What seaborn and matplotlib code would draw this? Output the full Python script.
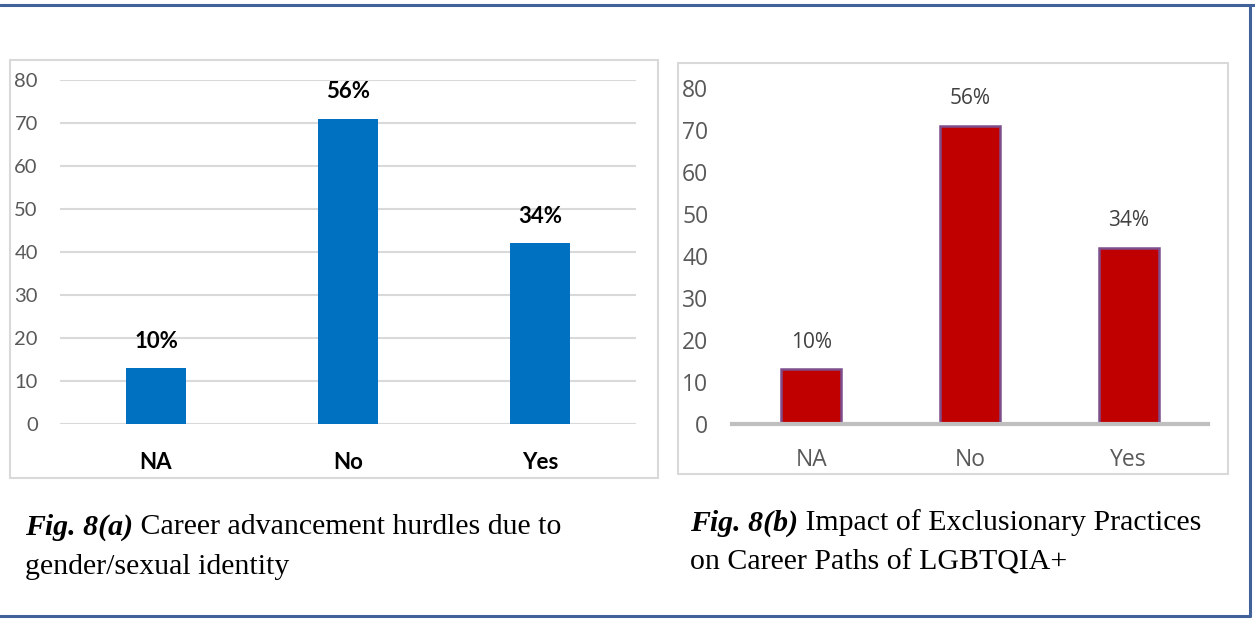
import matplotlib
matplotlib.use("Agg")
import matplotlib.pyplot as plt
from matplotlib.patches import Rectangle
from matplotlib.lines import Line2D
import seaborn as sns

# Survey responses (counts) and the share each answer represents
categories = ["NA", "No", "Yes"]
hurdles_counts = [13, 71, 42]
hurdles_pct = ["10%", "56%", "34%"]
exclusion_counts = [13, 71, 42]
exclusion_pct = ["10%", "56%", "34%"]
y_ticks = [0, 10, 20, 30, 40, 50, 60, 70, 80]

caption_a = ("Fig. 8(a)", " Career advancement hurdles due to", "gender/sexual identity")
caption_b = ("Fig. 8(b)", " Impact of Exclusionary Practices", "on Career Paths of LGBTQIA+")

W, H = 1255, 619
sns.set_theme(style="white")
plt.rcParams["font.family"] = ["Lato", "DejaVu Sans"]

fig = plt.figure(figsize=(W / 100, H / 100), dpi=100)
fig.patch.set_facecolor("white")


def px_box(x0, y0, x1, y1):
    """Figure-fraction rectangle from pixel corners (top-left origin)."""
    return [x0 / W, 1 - y1 / H, (x1 - x0) / W, (y1 - y0) / H]


# ---- outer page border ----
border_col = "#41619b"
for xs, ys in [((0, 1), (1 - 5 / H, 1 - 5 / H)),
               ((0, 1250 / W), (1 - 616 / H, 1 - 616 / H)),
               ((1250 / W, 1250 / W), (1 - 5 / H, 1 - 616 / H))]:
    fig.add_artist(Line2D(xs, ys, transform=fig.transFigure, color=border_col, lw=2.2))

# ---- chart frames ----
for (x0, y0, x1, y1) in [(10, 60, 658, 478), (678, 63, 1228, 474)]:
    fig.add_artist(Rectangle((x0 / W, 1 - y1 / H), (x1 - x0) / W, (y1 - y0) / H,
                             transform=fig.transFigure, fill=False,
                             edgecolor="#d9d9d9", lw=1.5))

# ---- Fig 8(a): blue bars with gridlines ----
ax1 = fig.add_axes(px_box(60, 80, 636, 424))
sns.barplot(x=categories, y=hurdles_counts, color="#0070c0", saturation=1,
            width=0.3125, ax=ax1, linewidth=0)
ax1.set_xlim(-0.5, 2.5)
ax1.set_ylim(0, 80)
ax1.set_yticks(y_ticks)
ax1.yaxis.grid(True, color="#d9d9d9", lw=1.5)
ax1.set_axisbelow(True)
for s in ax1.spines.values():
    s.set_visible(False)
ax1.tick_params(axis="y", length=0, pad=16, labelsize=14.5, labelcolor="#595959")
ax1.tick_params(axis="x", length=0, pad=20, labelsize=16, labelcolor="black")
for lbl in ax1.get_xticklabels():
    lbl.set_fontweight("bold")
ax1.set_xlabel("")
ax1.set_ylabel("")
for i, (v, t) in enumerate(zip(hurdles_counts, hurdles_pct)):
    ax1.annotate(t, (i, v), xytext=(0, 19.5), textcoords="offset points",
                 ha="center", va="center", fontsize=16, fontweight="bold",
                 color="black")

# ---- Fig 8(b): red bars on a grey baseline ----
ax2 = fig.add_axes(px_box(732, 88, 1208, 424))
sns.barplot(x=categories, y=exclusion_counts, color="#c00000", saturation=1,
            width=0.38, ax=ax2, edgecolor="#7d4d8c", linewidth=1.8)
ax2.set_xlim(-0.5, 2.5)
ax2.set_ylim(0, 80)
ax2.set_yticks(y_ticks)
for name, s in ax2.spines.items():
    s.set_visible(name == "bottom")
ax2.spines["bottom"].set_color("#bfbfbf")
ax2.spines["bottom"].set_linewidth(3)
ax2.tick_params(axis="y", length=0, pad=17, labelsize=16.5, labelcolor="#595959")
ax2.tick_params(axis="x", length=0, pad=17, labelsize=16.5, labelcolor="#595959")
for lbl in ax2.get_yticklabels() + ax2.get_xticklabels():
    lbl.set_fontfamily(["Open Sans", "DejaVu Sans"])
ax2.set_xlabel("")
ax2.set_ylabel("")
for i, (v, t) in enumerate(zip(exclusion_counts, exclusion_pct)):
    ax2.annotate(t, (i, v), xytext=(0, 19.5), textcoords="offset points",
                 ha="center", va="center", fontsize=15, color="#404040",
                 family=["Open Sans", "DejaVu Sans"])

# ---- captions ----
serif = ["Liberation Serif", "DejaVu Serif"]
fig.canvas.draw()
renderer = fig.canvas.get_renderer()


def caption(parts, x_px, y1_px, y2_px):
    head = fig.text(x_px / W, 1 - y1_px / H, parts[0], family=serif, fontsize=21.5,
                    fontweight="bold", fontstyle="italic", va="center", ha="left",
                    color="black")
    bb = head.get_window_extent(renderer=renderer)
    fig.text(bb.x1 / W, 1 - y1_px / H, parts[1], family=serif, fontsize=21.5,
             va="center", ha="left", color="black")
    fig.text(x_px / W, 1 - y2_px / H, parts[2], family=serif, fontsize=21.5,
             va="center", ha="left", color="black")


caption(caption_a, 25, 527, 567)
caption(caption_b, 690, 523, 562)

fig.savefig("out.png", dpi=100, facecolor="white")
